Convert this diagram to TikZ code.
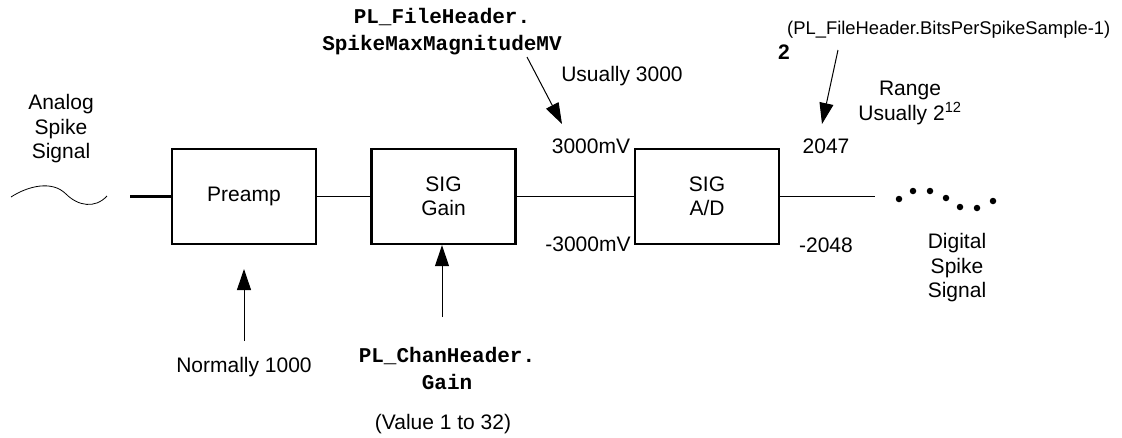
\documentclass[tikz,border=0pt]{standalone}
\usepackage{fontspec}
\setmainfont{Liberation Sans}
\newfontfamily\monob{Liberation Mono}[BoldFont={* Bold}]
\usetikzlibrary{arrows.meta}
\tikzset{
  blk/.style={draw, line width=2.4pt, minimum width=144pt, minimum height=95pt, inner sep=0pt, align=center, font=\fontsize{21}{24.5}\selectfont},
  lbl/.style={inner sep=0pt, align=center, font=\fontsize{21}{24.5}\selectfont},
  mono/.style={inner sep=0pt, align=center, font=\fontsize{21}{27}\monob\bfseries},
  wire/.style={line width=1pt},
  thick wire/.style={line width=2.4pt},
  pointer/.style={line width=1pt, -{Triangle[length=21pt,width=14pt]}},
  dot/.style={fill, circle, inner sep=0pt, minimum size=6.5pt}
}
\begin{document}
\begin{tikzpicture}[x=1pt, y=-1pt]
\useasboundingbox (0,0) rectangle (1122,437);
% blocks
\node[blk] (pre) at (244,196.5) {Preamp};
\node[blk] (gain) at (443.5,196.5) {SIG\\Gain};
\node[blk] (ad) at (707,196.5) {SIG\\A/D};
% analog input
\node[lbl] (analog) at (61,129) {Analog\\Spike\\Signal};
\draw[wire, line width=0.8pt] (11,197) .. controls (28,186) and (52,180) .. (66,194)
  .. controls (78,206) and (95,209) .. (107,196);
\coordinate (inp) at (130,196.5);
\draw[thick wire] (inp) -- (pre.west);
\draw[wire] (pre.east) -- (gain.west);
\draw[wire] (gain.east) -- (ad.west);
\coordinate (outp) at (875,196.5);
\draw[wire] (ad.east) -- (outp);
% digital output dots
\node[dot] (d1) at (899,199) {};
\node[dot] (d2) at (913,191) {};
\node[dot] (d3) at (930,191) {};
\node[dot] (d4) at (946,198) {};
\node[dot] (d5) at (960,207) {};
\node[dot] (d6) at (977,208) {};
\node[dot] (d7) at (993,201) {};
\node[lbl] (digital) at (957,268) {Digital\\Spike\\Signal};
% level labels
\node[lbl] (p3000) at (591,146) {3000mV};
\node[lbl] (m3000) at (588,244) {-3000mV};
\node[lbl] (p2047) at (826,146) {2047};
\node[lbl] (m2048) at (826,245) {-2048};
% top-left annotation
\node[mono] (fh) at (442,31.5) {PL\_FileHeader.\\SpikeMaxMagnitudeMV};
\node[lbl] (us3000) at (622,76) {Usually 3000};
\coordinate (a1s) at (527,57);
\coordinate (a1e) at (562,124);
\draw[pointer] (a1s) -- (a1e);
% top-right annotation
\node[lbl, font=\fontsize{21}{24}\selectfont\bfseries] (two) at (784,52) {2};
\node[lbl, anchor=west, font=\fontsize{18.4}{22}\selectfont] (bits) at (787,30) {(PL\_FileHeader.BitsPerSpikeSample-1)};
\node[lbl] (range) at (910,103) {Range\\Usually 2\textsuperscript{12}};
\coordinate (a2s) at (838,50);
\coordinate (a2e) at (822,124);
\draw[pointer] (a2s) -- (a2e);
% bottom annotations
\coordinate (a3s) at (244,341);
\coordinate (a3e) at (244,269);
\draw[pointer] (a3s) -- (a3e);
\node[lbl] (norm) at (244,367) {Normally 1000};
\coordinate (a4s) at (442,317);
\draw[pointer] (a4s) -- (a4s |- gain.south);
\node[mono] (ch) at (447,368.5) {PL\_ChanHeader.\\Gain};
\node[lbl] (val) at (443,424) {(Value 1 to 32)};
\end{tikzpicture}
\end{document}
